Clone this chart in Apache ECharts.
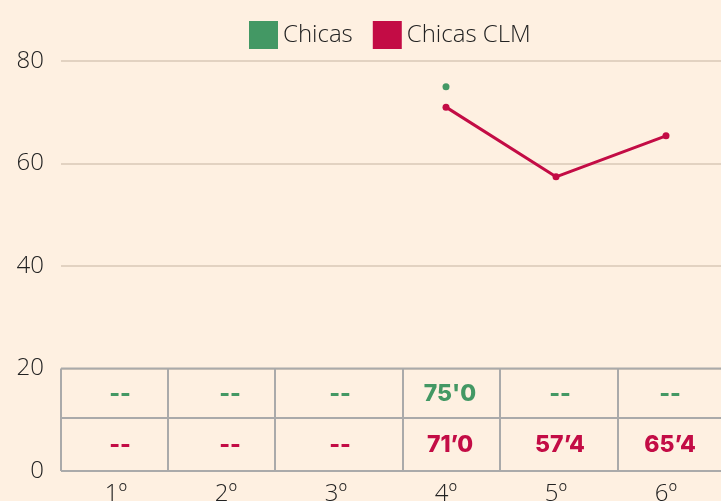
<!DOCTYPE html>
<html>
<head>
<meta charset="utf-8">
<script src="https://cdn.jsdelivr.net/npm/echarts@6/dist/echarts.min.js"></script>
<style>
  html, body { margin: 0; padding: 0; background: #fef0e1; }
  #chart { width: 721px; height: 501px; }
</style>
</head>
<body>
<div id="chart"></div>
<script>
const categories = ['1º', '2º', '3º', '4º', '5º', '6º']
const chicas = [null, null, null, 75.0, null, null]
const chicasClm = [null, null, null, 71.0, 57.4, 65.4]
const yTicks = [0, 20, 40, 60, 80]

const GREEN = '#439864'
const RED = '#c30c45'

// table frame (HTML-like table under the plot)
const colEdges = [61, 168, 275, 403, 500, 618, 722]

const fmt = (v, sep) => (v == null ? '--' : v.toFixed(1).replace('.', sep))

const chart = echarts.init(document.getElementById('chart'))

const option = {
  backgroundColor: '#fef0e1',
  animation: false,
  legend: {
    left: 244,
    top: 16,
    icon: 'rect',
    itemWidth: 29,
    itemHeight: 28,
    itemGap: 20,
    textStyle: { fontFamily: 'Open Sans', fontWeight: 300, fontSize: 24, color: '#222' },
    data: ['Chicas', 'Chicas CLM']
  },
  grid: { left: 61, right: 0, top: 61, bottom: 30, outerBoundsMode: 'none', containLabel: false },
  xAxis: {
    type: 'category',
    data: categories,
    axisLine: { show: false },
    axisTick: { show: false },
    axisLabel: { fontFamily: 'Open Sans', fontWeight: 300, fontSize: 24, color: '#222', margin: 11 }
  },
  yAxis: {
    type: 'value',
    min: yTicks[0],
    max: yTicks[yTicks.length - 1],
    interval: 20,
    axisLine: { show: false },
    axisTick: { show: false },
    axisLabel: { fontFamily: 'Open Sans', fontWeight: 300, fontSize: 24, color: '#222', margin: 17 },
    splitLine: { lineStyle: { color: '#d9c8b6', width: 1.5 } }
  },
  series: [
    {
      name: 'Chicas',
      type: 'line',
      data: chicas,
      color: GREEN,
      symbol: 'circle',
      symbolSize: 7,
      lineStyle: { width: 3 },
      z: 5
    },
    {
      name: 'Chicas CLM',
      type: 'line',
      data: chicasClm,
      color: RED,
      symbol: 'circle',
      symbolSize: 7,
      lineStyle: { width: 3 },
      z: 5
    },
    {
      name: 'tabla',
      type: 'custom',
      data: categories.map((c, i) => [i]),
      silent: true,
      z: 4,
      renderItem: (params, api) => {
        const i = api.value(0)
        const p1 = api.coord([i, 15])
        const p2 = api.coord([i, 5])
        const font = '800 23px Inter'
        return {
          type: 'group',
          children: [
            { type: 'text', style: { x: p1[0] + 4, y: p1[1], text: fmt(chicas[i], "'"), font, fill: GREEN, align: 'center', verticalAlign: 'middle' } },
            { type: 'text', style: { x: p2[0] + 4, y: p2[1], text: fmt(chicasClm[i], '’'), font, fill: RED, align: 'center', verticalAlign: 'middle' } }
          ]
        }
      }
    }
  ]
}

chart.setOption(option)

// draw table lines, rows aligned on the value axis
const yTop = chart.convertToPixel({ yAxisIndex: 0 }, 20)
const yBot = chart.convertToPixel({ yAxisIndex: 0 }, 0)
const yMid = 418
const lineStyle = { stroke: '#aaaaaa', lineWidth: 2 }
const graphics = [
  { type: 'line', shape: { x1: colEdges[0], y1: yTop, x2: 722, y2: yTop }, style: lineStyle },
  { type: 'line', shape: { x1: colEdges[0], y1: yMid, x2: 722, y2: yMid }, style: lineStyle },
  { type: 'line', shape: { x1: colEdges[0], y1: yBot, x2: 722, y2: yBot }, style: lineStyle }
]
colEdges.slice(0, -1).forEach(x => {
  graphics.push({ type: 'line', shape: { x1: x, y1: yTop, x2: x, y2: yBot }, style: lineStyle })
})
chart.setOption({ graphic: graphics.map(g => Object.assign({ z: 3, silent: true }, g)) })
</script>
</body>
</html>
